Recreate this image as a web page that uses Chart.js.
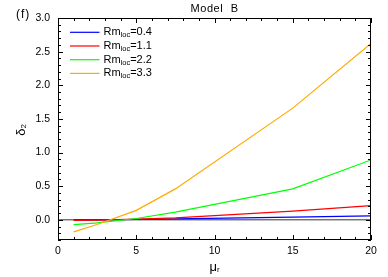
<!DOCTYPE html>
<html>
<head>
<meta charset="utf-8">
<script src="https://cdn.jsdelivr.net/npm/chart.js@4/dist/chart.umd.min.js"></script>
<style>
html,body{margin:0;padding:0;background:#fff;}
#wrap{width:388px;height:277px;}
</style>
</head>
<body>
<div id="wrap"><canvas id="c" width="388" height="277"></canvas></div>
<script>
// ---- data ----
const muR = [1, 2.5, 5, 7.5, 15, 20];
const rm04 = [0.0, 0.0, 0.005, 0.015, 0.04, 0.06];
const rm11 = [-0.008, -0.004, 0.01, 0.03, 0.13, 0.21];
const rm22 = [-0.07, -0.045, 0.02, 0.115, 0.46, 0.89];
const rm33 = [-0.18, -0.07, 0.14, 0.46, 1.66, 2.62];
const rmLoc = ['0.4', '1.1', '2.2', '3.3'];
const seriesColors = ['#0000ff', '#ff0000', '#00ff00', '#ffaa00'];
const xTicks = [0, 5, 10, 15, 20];
const yTicks = [0.0, 0.5, 1.0, 1.5, 2.0, 2.5, 3.0];
const zeroX = [0, 20];
const zeroY = [0, 0];

const FONT = '"Liberation Sans", Arial, sans-serif';

function pts(xs, ys) { return xs.map((x, i) => ({x: x, y: ys[i]})); }

const series = [rm04, rm11, rm22, rm33];
const datasets = series.map((s, i) => ({
  label: 'Rm_loc=' + rmLoc[i],
  data: pts(muR, s),
  borderColor: seriesColors[i],
  borderWidth: 1.2,
  pointRadius: 0,
  fill: false,
  tension: 0,
  order: 4 - i
}));
datasets.push({
  label: 'zero',
  data: pts(zeroX, zeroY),
  borderColor: '#333333',
  borderWidth: 1,
  pointRadius: 0,
  fill: false,
  order: 10
});

function drawParts(ctx, x, y, parts, align, spacing) {
  // parts: [{t, size, dy}]
  ctx.letterSpacing = (spacing || 0) + 'px';
  let total = 0;
  parts.forEach(p => { ctx.font = p.size + 'px ' + FONT; p.w = ctx.measureText(p.t).width; total += p.w; });
  let cx = align === 'center' ? x - total / 2 : x;
  ctx.textAlign = 'left';
  ctx.textBaseline = 'middle';
  parts.forEach(p => {
    ctx.font = p.size + 'px ' + FONT;
    ctx.fillText(p.t, cx, y + (p.dy || 0));
    cx += p.w;
  });
  ctx.letterSpacing = '0px';
}

const framePlugin = {
  id: 'frame',
  afterDraw(chart) {
    const ctx = chart.ctx;
    const a = chart.chartArea;
    const xs = chart.scales.x, ys = chart.scales.y;
    ctx.save();
    ctx.strokeStyle = '#000';
    ctx.lineWidth = 1;
    ctx.strokeRect(Math.round(a.left) + 0.5, Math.round(a.top) + 0.5,
                   Math.round(a.right - a.left) - 1, Math.round(a.bottom - a.top) - 1);
    ctx.beginPath();
    // x ticks (minor every 1, major every 5)
    for (let v = xs.min; v <= xs.max + 1e-9; v += 1) {
      const px = Math.round(xs.getPixelForValue(v)) + 0.5;
      const len = (Math.abs(v % 5) < 1e-9) ? 5 : 3;
      ctx.moveTo(px, a.bottom); ctx.lineTo(px, a.bottom - len);
      ctx.moveTo(px, a.top); ctx.lineTo(px, a.top + len);
    }
    // y ticks (minor every 0.1, major every 0.5)
    for (let k = Math.ceil(ys.min * 10 - 1e-9); k <= Math.floor(ys.max * 10 + 1e-9); k++) {
      const v = k / 10;
      const py = Math.round(ys.getPixelForValue(v)) + 0.5;
      const len = (k % 5 === 0) ? 5 : 3;
      ctx.moveTo(a.left, py); ctx.lineTo(a.left + len, py);
      ctx.moveTo(a.right, py); ctx.lineTo(a.right - len, py);
    }
    ctx.stroke();

    ctx.fillStyle = '#000';
    // panel label and title
    drawParts(ctx, 16, 15, [{t: '(f)', size: 12}], 'left', 1);
    drawParts(ctx, (a.left + a.right) / 2, 9, [{t: 'Model  B', size: 11}], 'center', 0.6);
    // x title
    drawParts(ctx, (a.left + a.right) / 2, 267, [{t: 'μ', size: 13}, {t: 'r', size: 8, dy: 3}], 'center');
    // y title
    ctx.save();
    ctx.translate(21, 130);
    ctx.rotate(-Math.PI / 2);
    drawParts(ctx, 0, 0, [{t: 'δ', size: 13}, {t: '2', size: 8, dy: 3}], 'center');
    ctx.restore();

    // legend
    chart.data.datasets.forEach((ds, i) => {
      if (i >= rmLoc.length) return;
      const y = 32.3 + i * 13.7;
      ctx.strokeStyle = ds.borderColor;
      ctx.lineWidth = 1.2;
      ctx.beginPath();
      ctx.moveTo(70, y); ctx.lineTo(99.5, y);
      ctx.stroke();
      ctx.fillStyle = '#000';
      drawParts(ctx, 103.5, y, [
        {t: 'Rm', size: 11},
        {t: 'loc', size: 7.5, dy: 3},
        {t: '=' + rmLoc[i], size: 11}
      ], 'left');
    });
    ctx.restore();
  }
};

new Chart(document.getElementById('c'), {
  type: 'line',
  data: {datasets: datasets},
  options: {
    responsive: false,
    animation: false,
    devicePixelRatio: 1,
    layout: {padding: {left: 0, right: 17, top: 18, bottom: 0}},
    plugins: {legend: {display: false}, tooltip: {enabled: false}, title: {display: false}},
    scales: {
      x: {
        type: 'linear', min: 0, max: 20,
        grid: {display: false, drawTicks: false},
        border: {display: false},
        afterBuildTicks: s => { s.ticks = xTicks.map(v => ({value: v})); },
        afterFit: s => { s.height = 37; },
        ticks: {padding: 5, color: '#000', font: {family: FONT, size: 10.5},
                callback: v => String(v), maxRotation: 0}
      },
      y: {
        type: 'linear', min: -0.3, max: 3.0,
        grid: {display: false, drawTicks: false},
        border: {display: false},
        afterBuildTicks: s => { s.ticks = yTicks.map(v => ({value: v})); },
        afterFit: s => { s.width = 58; },
        ticks: {padding: 8, color: '#000', font: {family: FONT, size: 10.5},
                callback: v => Number(v).toFixed(1)}
      }
    }
  },
  plugins: [framePlugin]
});
</script>
</body>
</html>
